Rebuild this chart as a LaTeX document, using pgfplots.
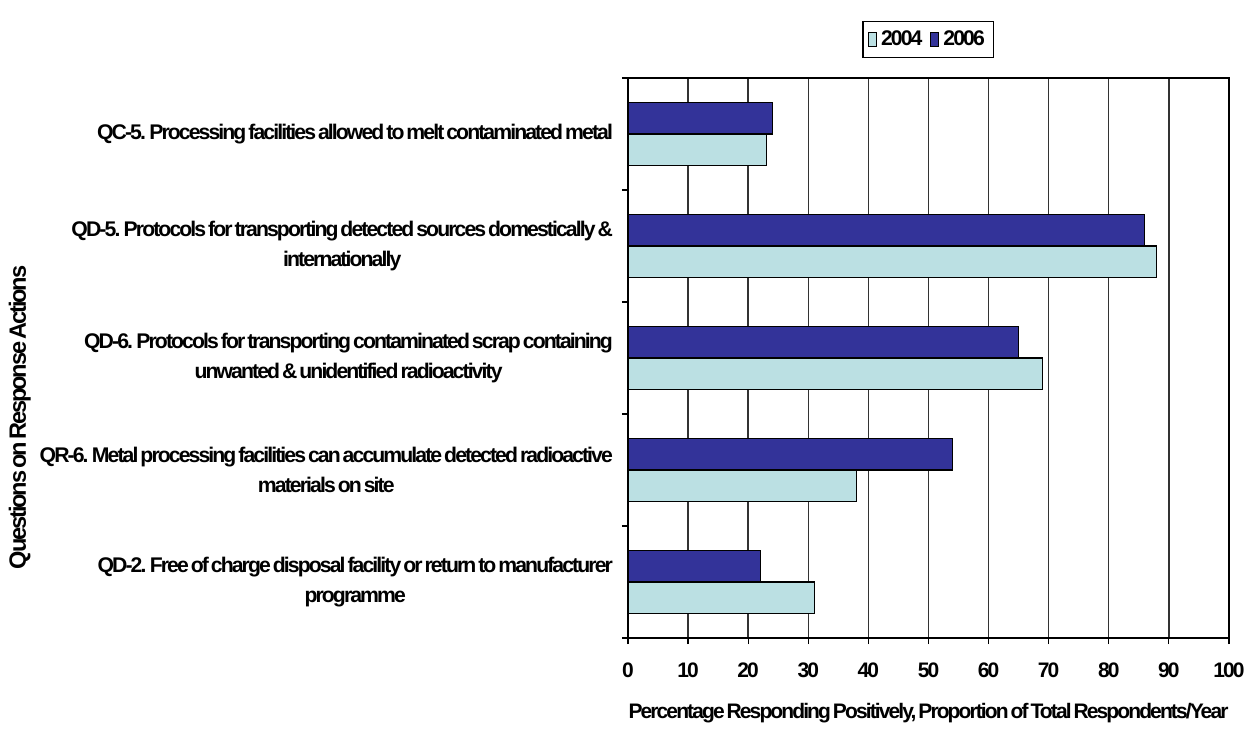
\documentclass[border=0pt]{standalone}
\usepackage{fontspec}
\setmainfont{Liberation Sans}[LetterSpace=-9, WordSpace=0.5]
\usepackage{pgfplots}
\pgfplotsset{compat=1.18}
\definecolor{c2004}{HTML}{BBE0E3}
\definecolor{c2006}{HTML}{333399}
\newcommand{\lf}{\fontsize{10.6}{15}\selectfont\bfseries}
\newcommand{\tf}{\fontsize{10.5}{13}\selectfont\bfseries}
\begin{document}
\begin{tikzpicture}
\begin{axis}[
  name=ax,
  scale only axis,
  width=300.5pt, height=280pt,
  xbar,
  bar width=0.28,
  xmin=0, xmax=100,
  ymin=-0.5, ymax=4.5,
  xtick={0,10,...,100},
  ytick={-0.5,0.5,1.5,2.5,3.5,4.5},
  yticklabels={},
  extra y ticks={0,1,2,3,4},
  extra y tick labels={
    {QD-2. Free of charge disposal facility or return to manufacturer\\programme},
    {QR-6. Metal processing facilities can accumulate detected radioactive\\materials on site},
    {QD-6. Protocols for transporting contaminated scrap containing\\unwanted \& unidentified radioactivity},
    {QD-5. Protocols for transporting detected sources domestically \&\\internationally},
    {QC-5. Processing facilities allowed to melt contaminated metal}},
  extra y tick style={major tick length=0pt, yticklabel style={align=center, anchor=east, xshift=-4pt, font=\lf}},
  /pgf/number format/assume math mode=true,
  tick pos=left,
  tick align=outside,
  major tick length=3pt,
  tick style={black, line width=0.6pt},
  xticklabel style={yshift=-6pt, font=\tf},
  xlabel={Percentage Responding Positively, Proportion of Total Respondents/Year},
  xlabel style={yshift=-6pt, font=\tf},
  ylabel={Questions on Response Actions},
  ylabel style={at={(rel axis cs:-1.012,0.394)}, anchor=center, font=\fontsize{11.8}{14}\selectfont\bfseries},
  xmajorgrids,
  major grid style={black!80, line width=0.7pt},
  axis line style={black, line width=0.7pt},
  legend columns=2,
  legend style={at={(rel axis cs:0.5,1)}, anchor=south, yshift=10pt, draw=black, line width=0.6pt, font=\lf, inner sep=2.5pt,
    /tikz/every even column/.append style={column sep=2pt}},
  legend image code/.code={\draw[#1, line width=0.5pt] (0cm,-0.13cm) rectangle (0.14cm,0.13cm);},
  clip=false,
]
\addplot[fill=c2004, draw=black, line width=0.6pt, bar shift=-0.14] coordinates {(31,0) (38,1) (69,2) (88,3) (23,4)};
\addplot[fill=c2006, draw=black, line width=0.6pt, bar shift=0.14] coordinates {(22,0) (54,1) (65,2) (86,3) (24,4)};
\legend{2004,2006}
\coordinate (bl) at (rel axis cs:-1.0449,-0.1625);
\coordinate (tr) at (rel axis cs:1.0383,1.1393);
\end{axis}
\pgfresetboundingbox
\path (bl) rectangle (tr);
\end{tikzpicture}
\end{document}
